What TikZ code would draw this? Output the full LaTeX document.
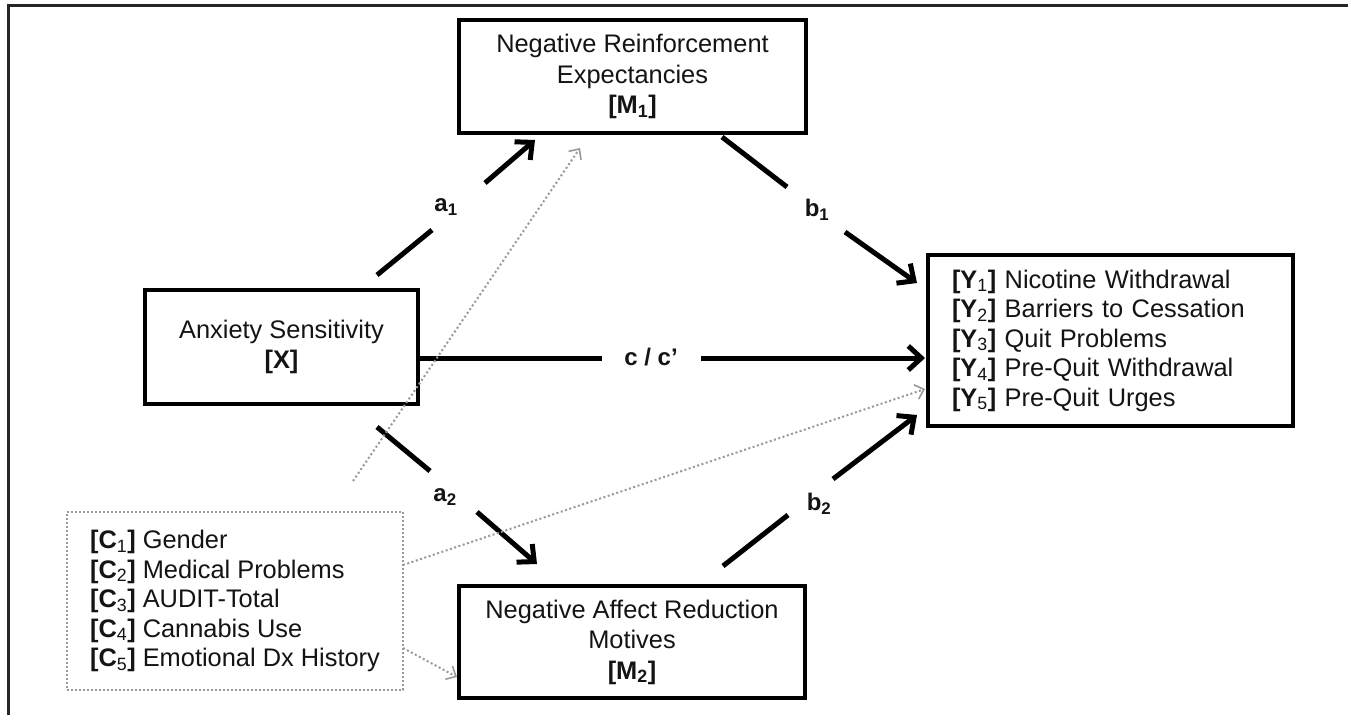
\documentclass[tikz,border=0pt]{standalone}
\usepackage{fontspec}
\setmainfont{Liberation Sans}
\usetikzlibrary{arrows.meta}
\begin{document}
\begin{tikzpicture}[x=1pt,y=-1pt,
  box/.style={draw=black, line width=3.5pt, rectangle, inner sep=0pt, align=center,
    font=\fontsize{25.4}{30.5}\selectfont, text=black!92},
  ybox/.style={draw=black, line width=3.5pt, rectangle, inner ysep=0pt, inner xsep=24pt,
    text width=317pt, minimum height=171pt, align=left,
    font=\fontsize{25.4}{29.5}\selectfont, text=black!92},
  cbox/.style={draw=black!40, line width=2pt, dash pattern=on 2pt off 2pt, rectangle,
    inner sep=0pt, minimum width=336pt, minimum height=178pt, align=left,
    font=\fontsize{25.4}{29.5}\selectfont, text=black!92},
  conn/.style={line width=5pt, black},
  connhead/.style={conn, -{Straight Barb[length=13pt,width=24pt]}},
  ctrl/.style={draw=black!40, line width=2pt, dash pattern=on 2pt off 2.5pt,
    -{Straight Barb[length=8pt,width=15pt,line width=1.6pt]}},
  lbl/.style={font=\fontsize{24}{24}\selectfont\bfseries, text=black!92, inner sep=0pt}
]
\useasboundingbox (0,0) rectangle (1348,715);
\fill[white] (0,0) rectangle (1348,715);
% frame
\draw[line width=3pt, black!85] (8,715) -- (8,5) -- (1348,5);

% boxes
\node[box, minimum width=347pt, minimum height=113pt] (M1) at (632.5,76.5)
  {Negative Reinforcement\\Expectancies\\\textbf{[M\textsubscript{1}]}};
\node[box, minimum width=273pt, minimum height=114pt] (X) at (281.5,347)
  {Anxiety Sensitivity\\\textbf{[X]}};
\node[box, minimum width=346pt, minimum height=112pt] (M2) at (632,642)
  {Negative Affect Reduction\\Motives\\\textbf{[M\textsubscript{2}]}};
\node[ybox] (Y) at (1110.5,340.5)
  {\textbf{[Y}\textsubscript{1}\textbf{]} Nicotine Withdrawal\\
   \textbf{[Y}\textsubscript{2}\textbf{]} Barriers to Cessation\\
   \textbf{[Y}\textsubscript{3}\textbf{]} Quit Problems\\
   \textbf{[Y}\textsubscript{4}\textbf{]} Pre-Quit Withdrawal\\
   \textbf{[Y}\textsubscript{5}\textbf{]} Pre-Quit Urges};
\node[cbox] (C) at (235,601)
  {\textbf{[C}\textsubscript{1}\textbf{]} Gender\\
   \textbf{[C}\textsubscript{2}\textbf{]} Medical Problems\\
   \textbf{[C}\textsubscript{3}\textbf{]} AUDIT-Total\\
   \textbf{[C}\textsubscript{4}\textbf{]} Cannabis Use\\
   \textbf{[C}\textsubscript{5}\textbf{]} Emotional Dx History};

% connector coordinates
\coordinate (a1s) at (377,275);  \coordinate (a1m) at (432,230);
\coordinate (a1n) at (485,183);  \coordinate (a1e) at (535,140);
\coordinate (b1s) at (722,137);  \coordinate (b1m) at (787,187);
\coordinate (b1n) at (845,232);  \coordinate (b1e) at (917,283);
\coordinate (a2s) at (377,427);  \coordinate (a2m) at (430,471);
\coordinate (a2n) at (477,512);  \coordinate (a2e) at (537,564);
\coordinate (b2s) at (723,566);  \coordinate (b2m) at (788,515);
\coordinate (b2n) at (833,479);  \coordinate (b2e) at (917,415);
\coordinate (cs) at (418,358);   \coordinate (cm) at (602,358);
\coordinate (cn) at (701,358);   \coordinate (ce) at (925,358);

% paths
\draw[conn] (a1s) -- (a1m);  \draw[connhead] (a1n) -- (a1e);
\draw[conn] (b1s) -- (b1m);  \draw[connhead] (b1n) -- (b1e);
\draw[conn] (a2s) -- (a2m);  \draw[connhead] (a2n) -- (a2e);
\draw[conn] (b2s) -- (b2m);  \draw[connhead] (b2n) -- (b2e);
\draw[conn] (cs) -- (cm);    \draw[connhead] (cn) -- (ce);

% labels
\node[lbl] (la1) at (446,207) {a\textsubscript{1}};
\node[lbl] (lb1) at (817,210) {b\textsubscript{1}};
\node[lbl] (la2) at (445,497) {a\textsubscript{2}};
\node[lbl] (lb2) at (819,504) {b\textsubscript{2}};
\node[lbl] (lc) at (651,357) {c / c’};

% control paths
\coordinate (d1s) at (353,481); \coordinate (d1e) at (580,148);
\coordinate (d2s) at (403,565); \coordinate (d2e) at (925,389);
\coordinate (d3s) at (403,648); \coordinate (d3e) at (457,677);
\draw[ctrl] (d1s) -- (d1e);
\draw[ctrl] (d2s) -- (d2e);
\draw[ctrl] (d3s) -- (d3e);
\end{tikzpicture}
\end{document}
